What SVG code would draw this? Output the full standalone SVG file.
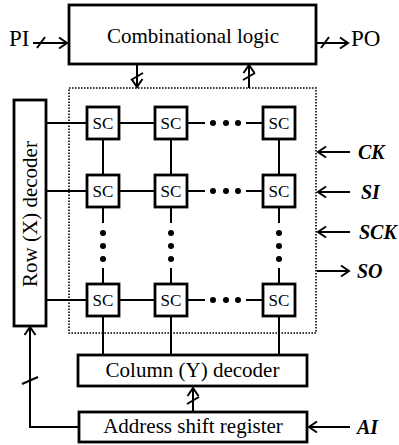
<svg xmlns="http://www.w3.org/2000/svg" width="399" height="445" viewBox="0 0 399 445">
<style>
.box{fill:#fff;stroke:#000;stroke-width:2.8}
.ln{fill:none;stroke:#000;stroke-width:2}
.t{font-family:"Liberation Serif","Times New Roman",serif;font-size:21px;fill:#000}
.sc{font-family:"Liberation Serif","Times New Roman",serif;font-size:17px;fill:#000;text-anchor:middle}
.it{font-family:"Liberation Serif","Times New Roman",serif;font-size:20px;font-style:italic;font-weight:bold;fill:#000}
.dot{fill:#000}
</style>
<defs>
<marker id="ah" markerUnits="userSpaceOnUse" markerWidth="12" markerHeight="14" viewBox="-10 -7 12 14" refX="0" refY="0" orient="auto">
<path d="M-8,-5.5 L0,0 L-8,5.5" fill="none" stroke="#000" stroke-width="2"/>
</marker>
</defs>
<rect x="0" y="0" width="399" height="445" fill="#fff"/>

<g id="connectors">
<line class="ln" x1="33" y1="43" x2="67" y2="43" marker-end="url(#ah)"/>
<line class="ln" x1="37" y1="48" x2="45" y2="37"/>
<line class="ln" x1="317" y1="43" x2="348" y2="43" marker-end="url(#ah)"/>
<line class="ln" x1="321" y1="48" x2="329" y2="37"/>
<line class="ln" x1="137" y1="64" x2="137" y2="87" marker-end="url(#ah)"/>
<line class="ln" x1="131" y1="80" x2="143" y2="73"/>
<line class="ln" x1="249" y1="88" x2="249" y2="65" marker-end="url(#ah)"/>
<line class="ln" x1="243" y1="80" x2="255" y2="73"/>
<line class="ln" x1="350" y1="152" x2="318" y2="152" marker-end="url(#ah)"/>
<line class="ln" x1="350" y1="192" x2="318" y2="192" marker-end="url(#ah)"/>
<line class="ln" x1="350" y1="232" x2="318" y2="232" marker-end="url(#ah)"/>
<line class="ln" x1="317" y1="271" x2="349" y2="271" marker-end="url(#ah)"/>
<line class="ln" x1="350" y1="427" x2="309" y2="427" marker-end="url(#ah)"/>
<line class="ln" x1="193" y1="412" x2="193" y2="388" marker-end="url(#ah)"/>
<line class="ln" x1="187" y1="404" x2="199" y2="397"/>
<polyline class="ln" points="79,427 30,427 30,327" marker-end="url(#ah)"/>
<line class="ln" x1="22" y1="384" x2="38" y2="377"/>
<g id="rows">
<line class="ln" x1="46" y1="123" x2="87" y2="123"/><line class="ln" x1="119" y1="123" x2="155" y2="123"/><line class="ln" x1="187" y1="123" x2="205" y2="123"/><line class="ln" x1="246" y1="123" x2="263" y2="123"/>
<line class="ln" x1="46" y1="191" x2="87" y2="191"/><line class="ln" x1="119" y1="191" x2="155" y2="191"/><line class="ln" x1="187" y1="191" x2="205" y2="191"/><line class="ln" x1="246" y1="191" x2="263" y2="191"/>
<line class="ln" x1="46" y1="300" x2="87" y2="300"/><line class="ln" x1="119" y1="300" x2="155" y2="300"/><line class="ln" x1="187" y1="300" x2="205" y2="300"/><line class="ln" x1="246" y1="300" x2="263" y2="300"/>
<circle class="dot" cx="213" cy="123" r="3"/><circle class="dot" cx="226" cy="123" r="3"/><circle class="dot" cx="238" cy="123" r="3"/>
<circle class="dot" cx="213" cy="191" r="3"/><circle class="dot" cx="226" cy="191" r="3"/><circle class="dot" cx="238" cy="191" r="3"/>
<circle class="dot" cx="213" cy="300" r="3"/><circle class="dot" cx="226" cy="300" r="3"/><circle class="dot" cx="238" cy="300" r="3"/>
</g>
<g id="cols">
<line class="ln" x1="103" y1="139" x2="103" y2="175"/><line class="ln" x1="103" y1="207" x2="103" y2="223"/><line class="ln" x1="103" y1="268" x2="103" y2="284"/><line class="ln" x1="103" y1="317" x2="103" y2="355"/>
<line class="ln" x1="171" y1="139" x2="171" y2="175"/><line class="ln" x1="171" y1="207" x2="171" y2="223"/><line class="ln" x1="171" y1="268" x2="171" y2="284"/><line class="ln" x1="171" y1="317" x2="171" y2="355"/>
<line class="ln" x1="279" y1="139" x2="279" y2="175"/><line class="ln" x1="279" y1="207" x2="279" y2="223"/><line class="ln" x1="279" y1="268" x2="279" y2="284"/><line class="ln" x1="279" y1="317" x2="279" y2="355"/>
<circle class="dot" cx="103" cy="233" r="3"/><circle class="dot" cx="103" cy="246" r="3"/><circle class="dot" cx="103" cy="259" r="3"/>
<circle class="dot" cx="171" cy="233" r="3"/><circle class="dot" cx="171" cy="246" r="3"/><circle class="dot" cx="171" cy="259" r="3"/>
<circle class="dot" cx="279" cy="233" r="3"/><circle class="dot" cx="279" cy="246" r="3"/><circle class="dot" cx="279" cy="259" r="3"/>
</g>
</g>

<g id="array">
<rect x="69" y="88" width="247" height="245" fill="none" stroke="#000" stroke-width="1.6" stroke-dasharray="1.6 1.4"/>
</g>

<g id="comb">
<rect class="box" x="69" y="5" width="247" height="59"/>
<text class="t" x="193" y="43" text-anchor="middle">Combinational logic</text>
</g>
<g id="rowdec">
<rect class="box" x="14" y="100" width="32" height="226"/>
<text class="t" transform="translate(37,214) rotate(-90)" text-anchor="middle">Row (X) decoder</text>
</g>
<g id="coldec">
<rect class="box" x="78" y="355" width="229" height="31"/>
<text class="t" x="192.5" y="377" text-anchor="middle">Column (Y) decoder</text>
</g>
<g id="addr">
<rect class="box" x="79" y="412" width="228" height="30"/>
<text class="t" x="193" y="433" text-anchor="middle">Address shift register</text>
</g>

<g id="sc11"><rect class="box" x="87" y="107" width="32" height="32"/><text class="sc" x="103" y="129">SC</text></g>
<g id="sc12"><rect class="box" x="155" y="107" width="32" height="32"/><text class="sc" x="171" y="129">SC</text></g>
<g id="sc13"><rect class="box" x="263" y="107" width="32" height="32"/><text class="sc" x="279" y="129">SC</text></g>
<g id="sc21"><rect class="box" x="87" y="175" width="32" height="32"/><text class="sc" x="103" y="197">SC</text></g>
<g id="sc22"><rect class="box" x="155" y="175" width="32" height="32"/><text class="sc" x="171" y="197">SC</text></g>
<g id="sc23"><rect class="box" x="263" y="175" width="32" height="32"/><text class="sc" x="279" y="197">SC</text></g>
<g id="sc31"><rect class="box" x="87" y="284" width="32" height="32"/><text class="sc" x="103" y="306">SC</text></g>
<g id="sc32"><rect class="box" x="155" y="284" width="32" height="32"/><text class="sc" x="171" y="306">SC</text></g>
<g id="sc33"><rect class="box" x="263" y="284" width="32" height="32"/><text class="sc" x="279" y="306">SC</text></g>

<g id="labels">
<text class="t" x="9" y="46" style="font-size:23px">PI</text>
<text class="t" x="351" y="46" style="font-size:23px">PO</text>
<text class="it" x="358" y="159">CK</text>
<text class="it" x="361" y="199">SI</text>
<text class="it" x="359" y="239">SCK</text>
<text class="it" x="357" y="278">SO</text>
<text class="it" x="357" y="434">AI</text>
</g>
</svg>
